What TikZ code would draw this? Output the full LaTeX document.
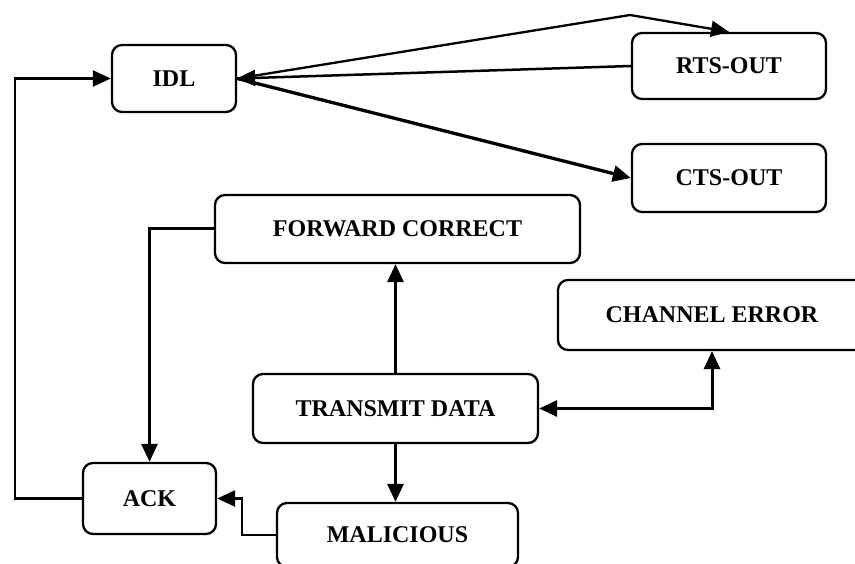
\documentclass[tikz,border=0pt]{standalone}
\usepackage{fontspec}
\setmainfont{Liberation Serif}
\usetikzlibrary{arrows.meta}
\begin{document}
\begin{tikzpicture}[x=1pt,y=-1pt,
  box/.style={draw, line width=2.3pt, rounded corners=10pt, align=center,
    font=\fontsize{24}{28}\selectfont\bfseries, inner sep=0pt},
  tip/.tip={Triangle[length=18pt,width=16pt]},
  arr/.style={line width=3pt, -tip},
  darr/.style={line width=3pt, tip-tip}]
\useasboundingbox (0,0) rectangle (855,564);
\clip (0,0) rectangle (855,564);
\node[box, minimum width=124pt, minimum height=67pt] (idl) at (174,78.5) {IDL};
\node[box, minimum width=194pt, minimum height=66pt] (rts) at (729,66) {RTS-OUT};
\node[box, minimum width=194pt, minimum height=68pt] (cts) at (729,178) {CTS-OUT};
\node[box, minimum width=365pt, minimum height=68pt] (fc) at (397.5,229) {FORWARD CORRECT};
\node[box, minimum width=308pt, minimum height=70pt] (ce) at (712,315) {CHANNEL ERROR};
\node[box, minimum width=285pt, minimum height=69pt] (td) at (395.5,408.5) {TRANSMIT DATA};
\node[box, minimum width=133pt, minimum height=71pt] (ack) at (149.5,498.5) {ACK};
\node[box, minimum width=241pt, minimum height=64pt] (mal) at (397.5,535) {MALICIOUS};
\coordinate (peak) at (630,15);
\draw[arr, line width=2.3pt] (ack.west) -- ++(-67,0) |- (idl.west);
\draw[arr] (fc.west) -| (ack.north);
\draw[arr] (td.north) -- (td.north |- fc.south);
\draw[arr] (td.south) -- (td.south |- mal.north);
\draw[arr, line width=2.3pt] (mal.west) -- ++(-34,0) |- (ack.east);
\draw[darr] (td.east) -| (ce.south);
\draw[arr, line width=2.5pt] (rts.west) -- (idl.east);
\draw[arr, line width=3.3pt] (idl.east) -- (cts.west);
\draw[arr, line width=2.3pt] (idl.east) -- (peak) -- (rts.north);
\end{tikzpicture}
\end{document}
